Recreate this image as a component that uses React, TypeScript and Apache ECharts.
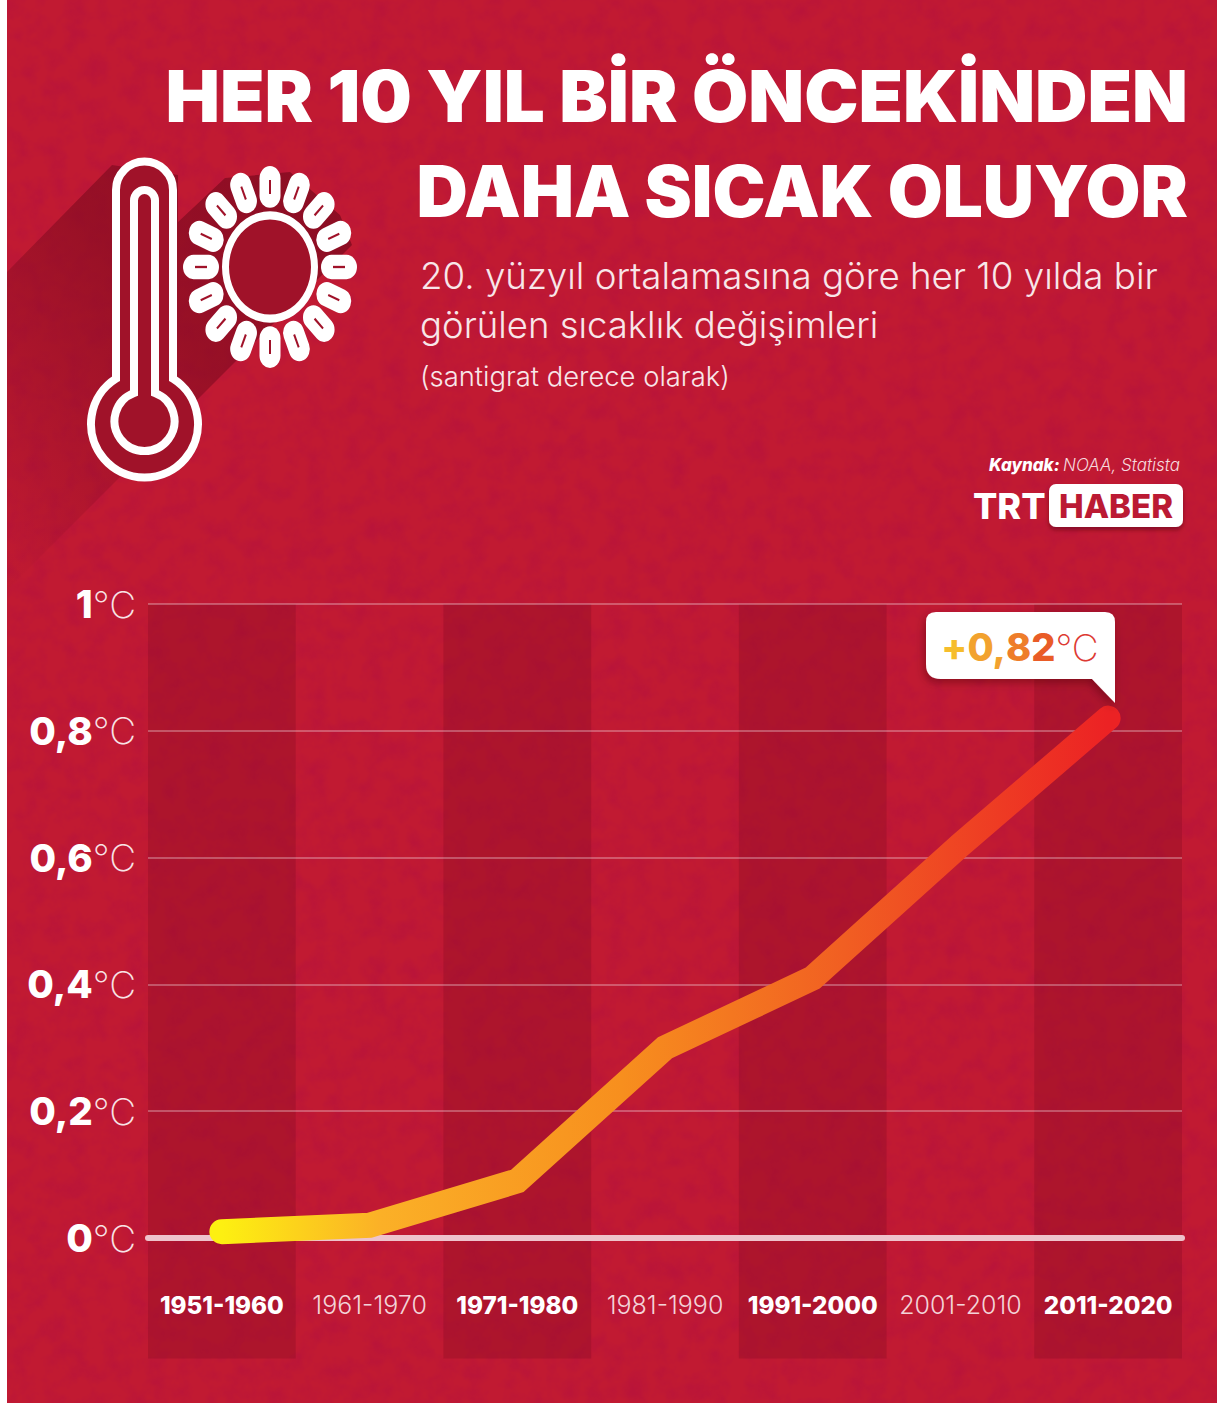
import React, { useEffect, useRef } from "react";
import * as echarts from "echarts";

const decades = ["1951-1960", "1961-1970", "1971-1980", "1981-1990", "1991-2000", "2001-2010", "2011-2020"];
const anomalies = [0.01, 0.02, 0.09, 0.3, 0.41, 0.62, 0.82];
const bandAbove = [1, null, 1, null, 1, null, 1];
const bandBelow = [-0.19, null, -0.19, null, -0.19, null, -0.19];

const FONT = "Inter";
const WHITE = "#ffffff";
const DARK = "#a01229";
const BAND = "rgba(130,10,32,0.3)";

echarts.graphic.registerShape(
  "thermoOuter",
  echarts.graphic.extendPath(
    "M116 190 A28.5 28.5 0 0 1 173 190 L173 378.7 A53.5 53.5 0 1 1 116 378.7 Z",
    {}
  )
);
echarts.graphic.registerShape(
  "thermoInner",
  echarts.graphic.extendPath(
    "M134 200.5 A10.5 10.5 0 0 1 155 200.5 L155 392.9 A30 30 0 1 1 134 392.9 Z",
    {}
  )
);
echarts.graphic.registerShape(
  "bubble",
  echarts.graphic.extendPath(
    "M936 612 H1105 Q1115 612 1115 622 V703 L1092 679 H941 Q926 679 926 664 V622 Q926 612 936 612 Z",
    {}
  )
);

const titleShadow = { shadowColor: "rgba(80,0,15,0.55)", shadowBlur: 4, shadowOffsetX: 3, shadowOffsetY: 3 };

function sunElements() {
  const children: any[] = [
    { type: "circle", shape: { cx: 0, cy: 0, r: 44 }, style: { fill: DARK } },
    { type: "ring", shape: { cx: 0, cy: 0, r: 48, r0: 41 }, style: { fill: WHITE } },
  ];
  for (let i = 0; i < 16; i++) {
    const rotation = (i * Math.PI) / 8;
    children.push({
      type: "rect",
      rotation,
      shape: { x: -10.5, y: -87, width: 21, height: 36, r: 10.5 },
      style: { fill: WHITE },
    });
    children.push({
      type: "rect",
      rotation,
      shape: { x: -1, y: -75, width: 2, height: 12 },
      style: { fill: DARK },
    });
  }
  return children;
}

function buildOption() {
  return {
    animation: false,
    backgroundColor: "transparent",
    grid: { left: 148, top: 604, width: 1034, height: 760.8, containLabel: false, outerBoundsMode: "none" },
    xAxis: {
      type: "category",
      data: decades.map((d, i) => ({
        value: d,
        textStyle:
          i % 2 === 0
            ? { fontWeight: 800, color: WHITE, fontSize: 24.2 }
            : { fontWeight: 300, color: "#f3d3d8", fontSize: 25 },
      })),
      axisLine: {
        onZero: true,
        lineStyle: { color: "#eec3cc", width: 6, cap: "round" },
      },
      axisTick: { show: false },
      axisLabel: { inside: true, margin: 47, fontFamily: FONT, fontSize: 25, interval: 0 },
    },
    yAxis: {
      type: "value",
      min: -0.2,
      max: 1,
      interval: 0.2,
      axisLine: { show: false },
      axisTick: { show: false },
      splitLine: { showMinLine: false, lineStyle: { color: "rgba(255,255,255,0.38)", width: 1.5 } },
      axisLabel: {
        margin: 12,
        showMinLabel: false,
        formatter: (v: number) =>
          v < 0 ? "" : `{b|${String(Number(v.toFixed(1))).replace(".", ",")}}{r|°C}`,
        rich: {
          b: { fontFamily: FONT, fontWeight: 800, fontSize: 38.5, color: WHITE },
          r: { fontFamily: FONT, fontWeight: 200, fontSize: 37, color: "#f8e3e6" },
        },
      },
    },
    series: [
      {
        type: "bar",
        data: bandAbove,
        barWidth: "100%",
        barGap: "-100%",
        z: -1,
        silent: true,
        itemStyle: { color: BAND },
      },
      {
        type: "bar",
        data: bandBelow,
        barWidth: "100%",
        barGap: "-100%",
        z: -1,
        silent: true,
        itemStyle: { color: BAND },
      },
      {
        type: "line",
        data: anomalies,
        showSymbol: false,
        symbol: "none",
        z: 5,
        lineStyle: {
          width: 25,
          cap: "round",
          join: "miter",
          color: new echarts.graphic.LinearGradient(0, 0, 1, 0, [
            { offset: 0, color: "#fdf011" },
            { offset: 0.18, color: "#fbb027" },
            { offset: 0.45, color: "#f78f1e" },
            { offset: 0.7, color: "#f15f22" },
            { offset: 1, color: "#ec2224" },
          ]),
        },
      },
    ],
    graphic: [
      {
        type: "polygon",
        z: 0,
        shape: {
          points: [
            [112, 165],
            [7, 272],
            [7, 590],
            [352, 245],
            [340, 215],
            [290, 172],
            [225, 178],
            [178, 222],
            [178, 175],
          ],
        },
        style: {
          fill: new echarts.graphic.LinearGradient(1, 0, 0, 1, [
            { offset: 0, color: "rgba(125,10,30,0.8)" },
            { offset: 0.45, color: "rgba(125,10,30,0.6)" },
            { offset: 0.95, color: "rgba(125,10,30,0.04)" },
          ]),
        },
      },
      { type: "thermoOuter", z: 1, style: { fill: DARK, stroke: WHITE, lineWidth: 8 } },
      { type: "thermoInner", z: 2, style: { fill: DARK, stroke: WHITE, lineWidth: 8 } },
      { type: "group", z: 1, x: 270, y: 267, scaleY: 1.16, children: sunElements() },
      {
        type: "text",
        z: 3,
        x: 1188,
        y: 96,
        scaleX: 1.023,
        style: {
          text: "HER 10 YIL BİR ÖNCEKİNDEN",
          align: "right",
          verticalAlign: "middle",
          fill: WHITE,
          fontFamily: FONT,
          fontWeight: 900,
          fontSize: 71,
          ...titleShadow,
        },
      },
      {
        type: "text",
        z: 3,
        x: 1188,
        y: 191,
        scaleX: 1.0,
        style: {
          text: "DAHA SICAK OLUYOR",
          align: "right",
          verticalAlign: "middle",
          fill: WHITE,
          fontFamily: FONT,
          fontWeight: 900,
          fontSize: 71,
          ...titleShadow,
        },
      },
      {
        type: "text",
        z: 3,
        x: 420,
        y: 275,
        style: {
          text: "20. yüzyıl ortalamasına göre her 10 yılda bir",
          verticalAlign: "middle",
          fill: "#f8e6e9",
          fontFamily: FONT,
          fontWeight: 300,
          fontSize: 36.7,
        },
      },
      {
        type: "text",
        z: 3,
        x: 420,
        y: 325,
        style: {
          text: "görülen sıcaklık değişimleri",
          verticalAlign: "middle",
          fill: "#f8e6e9",
          fontFamily: FONT,
          fontWeight: 300,
          fontSize: 36.5,
        },
      },
      {
        type: "text",
        z: 3,
        x: 420,
        y: 376,
        style: {
          text: "(santigrat derece olarak)",
          verticalAlign: "middle",
          fill: "#f8e6e9",
          fontFamily: FONT,
          fontWeight: 300,
          fontSize: 27.4,
        },
      },
      {
        type: "text",
        z: 3,
        x: 1180,
        y: 465,
        style: {
          text: "{a|Kaynak:} {b|NOAA, Statista}",
          align: "right",
          verticalAlign: "middle",
          rich: {
            a: { fontFamily: FONT, fontStyle: "italic", fontWeight: 800, fontSize: 17, fill: WHITE, color: WHITE },
            b: { fontFamily: FONT, fontStyle: "italic", fontWeight: 300, fontSize: 17, fill: "#f6d9de", color: "#f6d9de" },
          },
        },
      },
      {
        type: "text",
        z: 3,
        x: 973,
        y: 506,
        style: {
          text: "TRT",
          verticalAlign: "middle",
          fill: WHITE,
          fontFamily: FONT,
          fontWeight: 800,
          fontSize: 36,
          ...titleShadow,
        },
      },
      {
        type: "rect",
        z: 3,
        shape: { x: 1049, y: 484, width: 134, height: 43, r: 7 },
        style: { fill: WHITE, shadowColor: "rgba(80,0,15,0.5)", shadowBlur: 4, shadowOffsetY: 3 },
      },
      {
        type: "text",
        z: 4,
        x: 1116,
        y: 506,
        style: {
          text: "HABER",
          align: "center",
          verticalAlign: "middle",
          fill: "#bb1a33",
          fontFamily: FONT,
          fontWeight: 800,
          fontSize: 33,
        },
      },
      {
        type: "bubble",
        z: 6,
        style: { fill: WHITE, shadowColor: "rgba(70,0,15,0.4)", shadowBlur: 8, shadowOffsetX: -2, shadowOffsetY: 4 },
      },
      {
        type: "text",
        z: 7,
        x: 1020,
        y: 647,
        style: {
          text: "{a|+}{b|0,}{c|8}{d|2}{e|°C}",
          align: "center",
          verticalAlign: "middle",
          rich: {
            a: { fontFamily: FONT, fontWeight: 800, fontSize: 38, fill: "#f6bd2c", color: "#f6bd2c" },
            b: { fontFamily: FONT, fontWeight: 800, fontSize: 38, fill: "#f2a22e", color: "#f2a22e" },
            c: { fontFamily: FONT, fontWeight: 800, fontSize: 38, fill: "#ee7d2a", color: "#ee7d2a" },
            d: { fontFamily: FONT, fontWeight: 800, fontSize: 38, fill: "#e95c27", color: "#e95c27" },
            e: { fontFamily: FONT, fontWeight: 200, fontSize: 37, fill: "#dd3a33", color: "#dd3a33" },
          },
        },
      },
    ],
  };
}

export default function App() {
  const ref = useRef<HTMLDivElement>(null);
  useEffect(() => {
    if (!ref.current) return;
    const chart = echarts.init(ref.current, undefined, { renderer: "svg" });
    chart.setOption(buildOption() as any);
    return () => chart.dispose();
  }, []);
  return (
    <div style={{ position: "absolute", left: 0, top: 0, width: 1222, height: 1403, overflow: "hidden", background: "#fff" }}>
      <div style={{ position: "absolute", left: 7, top: 0, width: 1210, height: 1403, background: "#c11a32" }} />
      <svg width={1210} height={1403} style={{ position: "absolute", left: 7, top: 0 }}>
        <filter id="paper" x="0" y="0" width="100%" height="100%">
          <feTurbulence type="fractalNoise" baseFrequency="0.05 0.05" numOctaves={4} seed={4} />
          <feColorMatrix type="matrix" values="0 0 0 0 0.35  0 0 0 0 0  0 0 0 0 0.08  0.45 0 0 0 -0.17" />
        </filter>
        <rect width={1210} height={1403} filter="url(#paper)" />
      </svg>
      <div ref={ref} style={{ position: "absolute", left: 0, top: 0, width: 1222, height: 1403 }} />
    </div>
  );
}
